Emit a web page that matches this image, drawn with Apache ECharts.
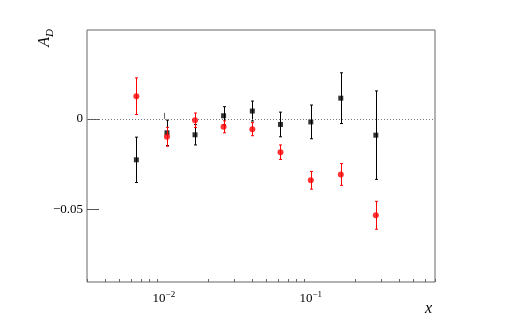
<!DOCTYPE html>
<html>
<head>
<meta charset="utf-8">
<script src="https://cdn.jsdelivr.net/npm/echarts@6/dist/echarts.min.js"></script>
<style>
html,body{margin:0;padding:0;background:#fff;}
#chart{width:523px;height:330px;}
</style>
</head>
<body>
<div id="chart"></div>
<script>
// ---- data ----
const xValues   = [0.0065, 0.0105, 0.0163, 0.0255, 0.040, 0.0622, 0.100, 0.160, 0.277];
const redY      = [0.0125, -0.0099, -0.0008, -0.0044, -0.0057, -0.0184, -0.0339, -0.0307, -0.0532];
const redErr    = [0.0101, 0.0052, 0.0040, 0.0033, 0.0036, 0.0040, 0.0049, 0.0060, 0.0077];
const blackY    = [-0.0226, -0.0077, -0.0088, 0.0017, 0.0043, -0.0031, -0.0017, 0.0114, -0.0090];
const blackErr  = [0.0125, 0.0070, 0.0056, 0.0050, 0.0055, 0.0068, 0.0093, 0.0140, 0.0244];

const xMajorTicks = [0.01, 0.1];
const xMajorLabels = [['10', '\u22122'], ['10', '\u22121']];
const xMinorTicks = [0.003, 0.004, 0.005, 0.006, 0.007, 0.008, 0.009,
                     0.02, 0.03, 0.04, 0.05, 0.06, 0.07, 0.08, 0.09,
                     0.2, 0.3, 0.4, 0.5, 0.6, 0.7];
const yTicks = [-0.05, 0];
const yTickLabels = ['\u22120.05', '0'];

const serif = '"Liberation Serif", "DejaVu Serif", serif';

function pts(ys) { return xValues.map((x, i) => [x, ys[i]]); }
function errData(ys, es) { return xValues.map((x, i) => [x, ys[i] - es[i], ys[i] + es[i]]); }

function errRender(color) {
  return function (params, api) {
    const lo = api.coord([api.value(0), api.value(1)]);
    const hi = api.coord([api.value(0), api.value(2)]);
    const x = Math.round(lo[0]) + 0.5;
    const cap = 1.5;
    const style = { stroke: color, lineWidth: 1 };
    return {
      type: 'group',
      children: [
        { type: 'line', shape: { x1: x, y1: lo[1], x2: x, y2: hi[1] }, style: style },
        { type: 'line', shape: { x1: x - cap, y1: lo[1], x2: x + cap, y2: lo[1] }, style: style },
        { type: 'line', shape: { x1: x - cap, y1: hi[1], x2: x + cap, y2: hi[1] }, style: style }
      ]
    };
  };
}

const chart = echarts.init(document.getElementById('chart'), null, { renderer: 'canvas' });
const xCommon = { type: 'log', logBase: 10, min: 0.003, max: 0.7, gridIndex: 0, position: 'bottom',
  axisLine: { show: false }, splitLine: { show: false }, minorTick: { show: false } };

chart.setOption({
  animation: false,
  backgroundColor: '#fff',
  grid: { left: 87, top: 30, right: 88, bottom: 48, show: true, borderColor: '#666', borderWidth: 1, backgroundColor: 'transparent' },
  xAxis: [
    Object.assign({}, xCommon, {
      axisTick: { show: true, inside: true, length: 6, lineStyle: { color: '#666' }, customValues: xMajorTicks },
      axisLabel: {
        show: true, margin: 5, customValues: xMajorTicks,
        formatter: function (v) {
          const i = xMajorTicks.findIndex(t => Math.abs(t - v) / t < 1e-6);
          if (i < 0) return '';
          return '{b|' + xMajorLabels[i][0] + '}{s|' + xMajorLabels[i][1] + '}';
        },
        rich: {
          b: { fontFamily: serif, fontSize: 13, color: '#000', lineHeight: 18, verticalAlign: 'bottom' },
          s: { fontFamily: serif, fontSize: 9, color: '#000', lineHeight: 18, verticalAlign: 'bottom', padding: [0, 0, 6, 0] }
        }
      }
    }),
    Object.assign({}, xCommon, {
      axisTick: { show: true, inside: true, length: 3, lineStyle: { color: '#666' }, customValues: xMinorTicks },
      axisLabel: { show: false }
    })
  ],
  yAxis: {
    type: 'value', min: -0.09, max: 0.049,
    axisLine: { show: false }, splitLine: { show: false },
    axisTick: { show: true, inside: true, length: 12, lineStyle: { color: '#555' }, customValues: yTicks },
    axisLabel: {
      show: true, margin: 4, customValues: yTicks, fontFamily: serif, fontSize: 13, color: '#000',
      formatter: function (v) {
        const i = yTicks.findIndex(t => Math.abs(t - v) < 1e-9);
        return i < 0 ? '' : yTickLabels[i];
      }
    }
  },
  graphic: [
    {
      type: 'text', left: 37, top: 29,
      rotation: Math.PI / 2,
      style: {
        text: '{a|A}{d|D}',
        rich: {
          a: { fontFamily: serif, fontStyle: 'italic', fontSize: 16, fill: '#000', verticalAlign: 'top' },
          d: { fontFamily: serif, fontStyle: 'italic', fontSize: 11, fill: '#000', verticalAlign: 'top', padding: [8, 0, 0, 0] }
        }
      }
    },
    {
      type: 'text', left: 425, top: 301,
      style: { text: 'x', fontFamily: serif, fontStyle: 'italic', fontSize: 16, fill: '#000' }
    }
  ],
  series: [
    {
      type: 'custom', name: 'blackErr', xAxisIndex: 0, renderItem: errRender('#000'),
      data: errData(blackY, blackErr), z: 2, silent: true,
      markLine: {
        silent: true, symbol: 'none', label: { show: false },
        lineStyle: { type: [1, 2], color: '#777', width: 1 },
        data: [{ yAxis: 0 }]
      }
    },
    {
      type: 'scatter', name: 'black', xAxisIndex: 0, symbol: 'rect', symbolSize: 5,
      itemStyle: { color: '#000' }, data: pts(blackY), z: 3
    },
    {
      type: 'custom', name: 'redErr', xAxisIndex: 0, renderItem: errRender('#ff0000'),
      data: errData(redY, redErr), z: 4, silent: true
    },
    {
      type: 'scatter', name: 'red', xAxisIndex: 0, symbol: 'circle', symbolSize: 6,
      itemStyle: { color: '#ff0000' }, data: pts(redY), z: 5
    }
  ]
});
</script>
</body>
</html>
